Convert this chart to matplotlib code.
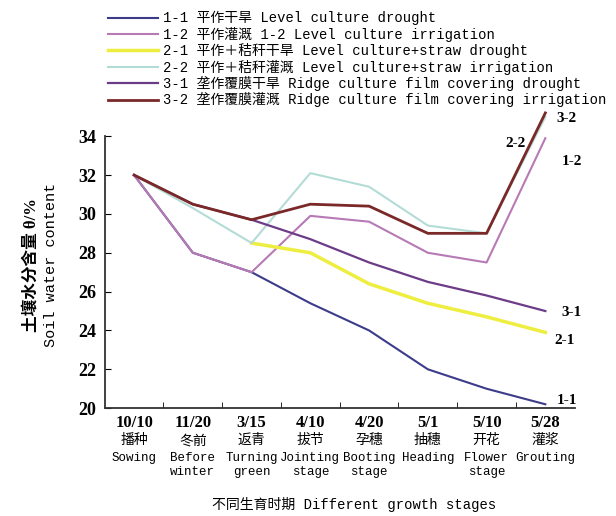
import matplotlib
matplotlib.use("Agg")
import matplotlib.pyplot as plt

# growth stages on the x axis
dates = ["10/10", "11/20", "3/15", "4/10", "4/20", "5/1", "5/10", "5/28"]
stages_cn = ["播种", "冬前", "返青", "拔节", "孕穗", "抽穗", "开花", "灌浆"]
stages_en = ["Sowing", "Before\nwinter", "Turning\ngreen", "Jointing\nstage",
             "Booting\nstage", "Heading", "Flower\nstage", "Grouting"]

# soil water content (%)
s11 = [32.0, 28.0, 27.0, 25.4, 24.0, 22.0, 21.0, 20.2]
s12 = [32.0, 28.0, 27.0, 29.9, 29.6, 28.0, 27.5, 33.9]
s21 = [None, None, 28.5, 28.0, 26.4, 25.4, 24.7, 23.9]
s22 = [32.0, 30.3, 28.5, 32.1, 31.4, 29.4, 29.0, 35.0]
s31 = [32.0, 30.5, 29.7, 28.7, 27.5, 26.5, 25.8, 25.0]
s32 = [32.0, 30.5, 29.7, 30.5, 30.4, 29.0, 29.0, 35.2]

labels = ["1-1 平作干旱 Level culture drought",
          "1-2 平作灌溉 1-2 Level culture irrigation",
          "2-1 平作＋秸秆干旱 Level culture+straw drought",
          "2-2 平作＋秸秆灌溉 Level culture+straw irrigation",
          "3-1 垄作覆膜干旱 Ridge culture film covering drought",
          "3-2 垄作覆膜灌溉 Ridge culture film covering irrigation"]
colors = ["#3c3c8a", "#b77ab5", "#eeee40", "#b4dcd6", "#6c3c88", "#7a2828"]
widths = [1.5, 1.5, 2.5, 1.5, 1.6, 2.0]

mono = ["Liberation Mono", "Noto Sans CJK SC"]
serif = ["Liberation Serif", "Noto Sans CJK SC"]

fig = plt.figure(figsize=(6.16, 5.16), dpi=100)
ax = fig.add_axes([0.170, 0.209, 0.763, 0.527])

x = list(range(len(dates)))
series = [s11, s12, s21, s22, s31, s32]
for s, lab, c, w in zip(series, labels, colors, widths):
    xs = [i for i, v in zip(x, s) if v is not None]
    ys = [v for v in s if v is not None]
    ax.plot(xs, ys, color=c, lw=w, label=lab, clip_on=False)

ax.set_xlim(-0.5, 7.5)
ax.set_ylim(20, 34)
ax.set_yticks(range(20, 35, 2))
ax.set_yticklabels([str(v) for v in range(20, 35, 2)], family=serif,
                   fontsize=13, fontweight="bold")
ax.set_xticks(x)
ax.set_xticklabels(dates, family=serif, fontsize=12, fontweight="bold")
ax.set_xticks([i + 0.5 for i in range(7)], minor=True)
ax.tick_params(axis="x", which="major", length=0, pad=5)
ax.tick_params(axis="x", which="minor", direction="in", length=4)
ax.tick_params(axis="y", direction="in", length=4, pad=6)
ax.spines["top"].set_visible(False)
ax.spines["right"].set_visible(False)
for sp in ["left", "bottom"]:
    ax.spines[sp].set_linewidth(1.3)
    ax.spines[sp].set_color("#333333")

# stage names under the dates
tr = ax.get_xaxis_transform()
for i in x:
    ax.text(i, -0.092, stages_cn[i], transform=tr, ha="center", va="top",
            family=mono, fontsize=10)
    ax.text(i, -0.163, stages_en[i], transform=tr, ha="center", va="top",
            family=mono, fontsize=9, linespacing=1.15)

fig.text(0.575, 0.008, "不同生育时期 Different growth stages", ha="center",
         va="bottom", family=mono, fontsize=10)

# y label
fig.text(0.052, 0.487, "土壤水分含量 θ/%", rotation=90, ha="center",
         va="center", family=serif, fontsize=12, fontweight="bold")
fig.text(0.083, 0.487, "Soil water content", rotation=90, ha="center",
         va="center", family=mono, fontsize=11)

# series tags at the right end
tags = [("3-2", 7.19, 34.9), ("2-2", 6.32, 33.6), ("1-2", 7.28, 32.7),
        ("3-1", 7.28, 24.9), ("2-1", 7.16, 23.5), ("1-1", 7.19, 20.4)]
for t, tx, ty in tags:
    ax.text(tx, ty, t, family=serif, fontsize=11, fontweight="bold",
            ha="left", va="center", clip_on=False)

fig.legend(loc="upper left", bbox_to_anchor=(0.158, 1.0), frameon=False,
           prop={"family": mono, "size": 10}, handlelength=3.6,
           handletextpad=0.3, labelspacing=0.1, borderpad=0.3)

fig.savefig("out.png", dpi=100)
